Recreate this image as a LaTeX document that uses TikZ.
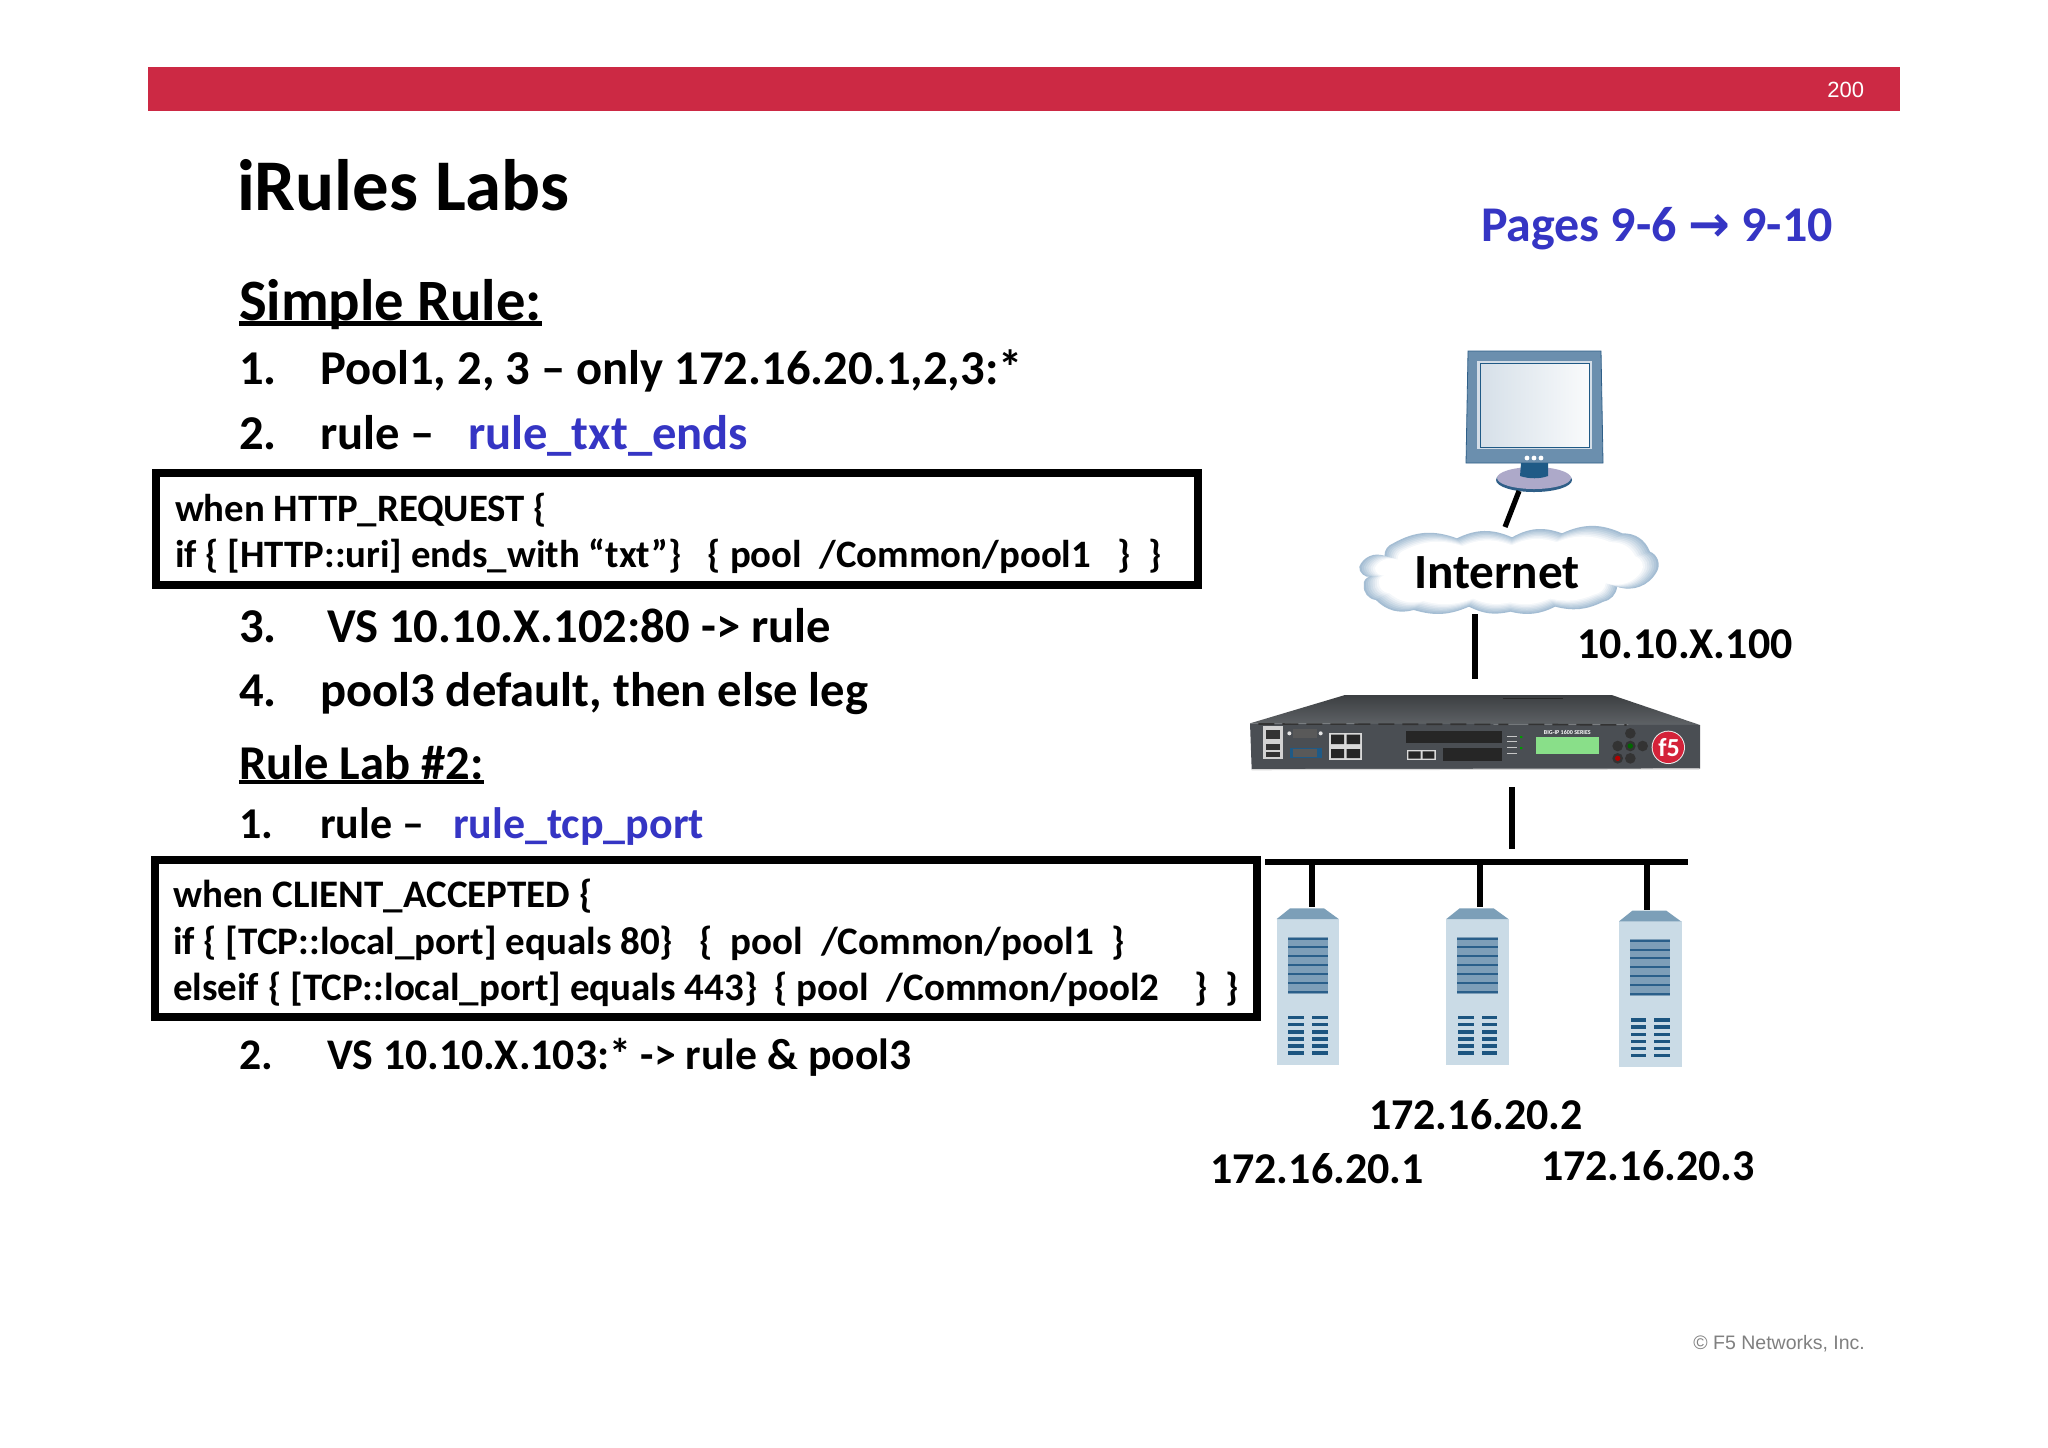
\documentclass[tikz,border=0pt]{standalone}
\usepackage{fontspec}
\setmainfont{Carlito}
\newfontfamily\arialfont{Liberation Sans}
\newfontfamily\arrowfont{DejaVu Sans}
\definecolor{barred}{HTML}{CC2944}
\definecolor{linkblue}{HTML}{3535C4}
\definecolor{steel}{HTML}{6B8FAE}
\definecolor{steeldark}{HTML}{2F5F88}
\definecolor{navy}{HTML}{1F5A86}
\definecolor{srvbody}{HTML}{CADBE6}
\definecolor{srvroof}{HTML}{7C9FB8}
\definecolor{srvpanel}{HTML}{7D9EB8}
\definecolor{srvline}{HTML}{2A5F8A}
\definecolor{vent}{HTML}{1C5580}
\definecolor{boxtop}{HTML}{565A5E}
\definecolor{boxfront}{HTML}{4A4E53}
\definecolor{cloudedge}{HTML}{A4BDD3}
\tikzset{
  lbl/.style={anchor=base west,inner sep=0pt,outer sep=0pt,text=black,font=\bfseries\fontsize{#1}{#1}\selectfont},
  lbl/.default=22,
  codebox/.style={draw=black,line width=3.6pt,fill=none},
  wire/.style={draw=black,line width=2.6pt},
}
\newcommand{\cloudoutline}{(495,740) to[bend left=55] (462,710) to[bend left=45] (535,678) to[bend left=35] (560,640) to[bend left=25] (745,625) to[bend left=25] (905,622) to[bend left=25] (1050,610) to[bend left=25] (1225,610) to[bend left=35] (1305,665) to[bend left=50] (1325,725) to[bend left=40] (1210,770) to[bend left=35] (1170,815) to[bend left=20] (1030,830) to[bend left=20] (900,845) to[bend left=20] (780,830) to[bend left=20] (620,840) to[bend left=30] (510,810) to[bend left=45] (475,765) to[bend left=50] cycle}
\newcommand{\thickul}[1]{\setbox0=\hbox{#1}\leavevmode\rlap{\rule[-0.11em]{\wd0}{0.085em}}\box0}
\begin{document}
\begin{tikzpicture}[x=0.5pt,y=-0.5pt]
\useasboundingbox (0,0) rectangle (2048,1447);
\fill[white] (0,0) rectangle (2048,1447);
% header
\fill[barred] (148,67) rectangle (1900,111);
\node[anchor=base west,inner sep=0pt,text=white,font=\arialfont\fontsize{11}{11}\selectfont] (pageno) at (1827,97) {200};
\node[anchor=base west,inner sep=0pt,text=black!50,font=\arialfont\fontsize{9.75}{9.75}\selectfont] (copyright) at (1693,1349) {© F5 Networks, Inc.};
% left text
\node[lbl=36.4] (title) at (237,210) {iRules Labs};
\node[lbl=25,text=linkblue] (pages) at (1481,241) {Pages 9-6 {\arrowfont\bfseries\fontsize{25}{25}\selectfont →} 9-10};
\node[lbl=29.3] (simple) at (239,320) {\thickul{Simple Rule:}};
\node[lbl=24.3] (n1) at (239,384) {1.};
\node[lbl=24.3] (t1) at (320,384) {Pool1, 2, 3 – only 172.16.20.1,2,3:*};
\node[lbl=24.3] (n2) at (239,449) {2.};
\node[lbl=24.3] (t2) at (320,449) {rule –};
\node[lbl=24.3,text=linkblue] (t2b) at (468,449) {rule\_txt\_ends};
\draw[codebox] (156,473) rectangle (1198,585);
\node[lbl=19.4] (c1a) at (175,521) {when HTTP\_REQUEST \{};
\node[lbl=19.4] (c1b) at (175,567) {if \{ [HTTP::uri] ends\_with “txt”\}~~ \{ pool~ /Common/pool1~~ \}~ \}};
\node[lbl=24.3] (n3) at (239,642) {3.};
\node[lbl=24.3] (t3) at (327,642) {VS 10.10.X.102:80 -> rule};
\node[lbl=24.3] (n4) at (239,706) {4.};
\node[lbl=24.3] (t4) at (320,706) {pool3 default, then else leg};
\node[lbl=24.3] (lab2) at (239,779) {\thickul{Rule Lab \#2:}};
\node[lbl=22] (m1) at (239,838) {1.};
\node[lbl=22] (m1t) at (320,838) {rule –};
\node[lbl=22,text=linkblue] (m1b) at (453,838) {rule\_tcp\_port};
\draw[codebox] (155,860) rectangle (1257,1017);
\node[lbl=19.5] (c2a) at (173,907) {when CLIENT\_ACCEPTED \{};
\node[lbl=19.5] (c2b) at (173,954) {if \{ [TCP::local\_port] equals 80\}~~ \{~ pool~ /Common/pool1~ \}};
\node[lbl=19.5] (c2c) at (173,1000) {elseif \{ [TCP::local\_port] equals 443\}\hspace{4pt} \{ pool~ /Common/pool2~~~ \}~ \}};
\node[lbl=21.85] (m2) at (239,1069) {2.};
\node[lbl=21.85] (m2t) at (327,1069) {VS 10.10.X.103:* -> rule \& pool3};
% monitor
\fill[steel,draw=steeldark,line width=.4pt] (1468,351) -- (1601,351) -- (1603,463) -- (1466,463) -- cycle;
\fill[white!70!steel] (1477,361) rectangle (1592,449);
\shade[shading angle=135,left color=white!72!steel,right color=white!96!steel] (1480,363) rectangle (1589,447);
\draw[navy,line width=.5pt] (1480,363) rectangle (1589,447);
\foreach \dx in {1527,1534,1541} \fill[white] (\dx,458) circle (2.4);
\fill[steeldark] (1534,480) ellipse (38 and 12);
\fill[white!50!steel!85!violet] (1534,478) ellipse (37 and 11);
\fill[navy] (1521,463) -- (1548,463) -- (1548,476) .. controls (1540,479) and (1529,479) .. (1520,476) -- cycle;
\coordinate (monout) at (1519,491);
\coordinate (cloudin) at (1505,527);
\draw[wire] (monout) -- (cloudin);
% cloud
\begin{scope}[shift={(1200,330)},x=0.5pt/2.9,y=-0.5pt/3]
  \foreach \s/\c in {1/0,.985/15,.97/30,.955/45,.94/60,.925/75,.91/88,.895/100}{
    \fill[white!\c!cloudedge,shift={(895,725)},xscale=\s,yscale={1-(1-\s)*2.2},shift={(-895,-725)}] \cloudoutline;
  }
\end{scope}
\node[lbl=24.6] (internet) at (1414,588) {Internet};
\node[lbl=22] (vip) at (1577,658) {10.10.X.100};
\coordinate (cloudout) at (1475,614);
\coordinate (bigin) at (1475,679);
\draw[wire] (cloudout) -- (bigin);
% BIG-IP appliance
\begin{scope}[shift={(1230,670)},x=0.5pt/3,y=-0.5pt/3]
  \shade[top color=boxtop!70!black,bottom color=boxtop!95!white] (345,75) -- (1145,75) -- (1410,165) -- (60,160) -- cycle;
  \fill[boxfront] (60,160) -- (1410,165) -- (1410,296) -- (65,298) -- cycle;
  \draw[white!70!gray,line width=.6pt] (65,299) -- (1408,297);
  \draw[black!80,line width=.8pt,dash pattern=on 8pt off 4pt] (85,162) -- (835,163) (895,163) -- (1190,165);
  \fill[black!70!gray] (820,83) rectangle (1000,88);
  % mgmt ports
  \fill[white!65!gray] (98,168) rectangle (160,268);
  \fill[black!80] (108,180) rectangle (150,208);
  \fill[black!80] (108,222) rectangle (150,240);
  \fill[black!80] (108,246) rectangle (150,262);
  % serial ports
  \fill[black!65] (190,178) rectangle (262,204);
  \fill[white!80!gray] (178,190) circle (6) (272,190) circle (6);
  \fill[navy] (180,234) rectangle (275,265);
  \fill[black!65] (190,238) rectangle (262,262);
  % four ethernet ports
  \fill[white!70!gray] (296,188) rectangle (396,270);
  \fill[black!85] (303,194) rectangle (342,222) (350,194) rectangle (390,222) (303,237) rectangle (342,264) (350,237) rectangle (390,264);
  % vents and SFP
  \fill[black!85] (527,182) rectangle (815,220);
  \fill[white!70!gray] (530,240) rectangle (618,270);
  \fill[black!85] (535,244) rectangle (572,266) (578,244) rectangle (613,266);
  \fill[black!85] (640,235) rectangle (815,272);
  % LEDs
  \foreach \ly in {200,216,233,250}{\fill[white!55!gray] (832,\ly-2) rectangle (862,\ly+1);}
  \fill[green!60!black] (870,198) rectangle (877,204) (870,231) rectangle (877,237);
  % LCD
  \fill[green!45!white!75!gray] (917,202) rectangle (1108,252);
  \node[inner sep=0pt,text=white,font=\bfseries\fontsize{3}{3}\selectfont] (model) at (1012,186) {BIG-IP 1600 SERIES};
  \foreach \kx/\ky in {1201/190,1163/228,1201/228,1238/228,1163/265,1201/265}{\fill[black!80] (\kx,\ky) circle (16);}
  \fill[red!70!black] (1163,265) circle (8);
  \fill[green!40!black] (1201,228) circle (8);
  \fill[white!85!gray] (1315,232) circle (50);
  \fill[barred!85!red] (1315,232) circle (47);
  \node[inner sep=0pt,text=white,font=\bfseries\fontsize{13}{13}\selectfont] (f5logo) at (1317,232) {f5};
\end{scope}
\coordinate (bigout) at (1512,787);
\coordinate (busin) at (1512,849);
\draw[wire] (bigout) -- (busin);
\coordinate (busl) at (1265,862);
\coordinate (busr) at (1688,862);
\draw[wire] (busl) -- (busr);
% servers
\begin{scope}[shift={(1250,850)},x=0.5pt/3,y=-0.5pt/3]
\foreach \ox/\oy/\sn in {0/0/a,509/0/b,1027/7/c}{
  \begin{scope}[shift={(\ox,\oy)}]
    \fill[srvbody] (80,207) rectangle (268,645);
    \fill[srvroof] (80,207) -- (120,175) -- (222,175) -- (266,207) -- cycle;
    \fill[srvpanel] (113,260) rectangle (234,432);
    \foreach \ly in {266,292,318,345,371,398,425}{\fill[srvline] (113,\ly-3) rectangle (234,\ly+3);}
    \foreach \ly in {503,524,546,567,588,609}{
      \fill[vent] (115,\ly-5) rectangle (162,\ly+5);
      \fill[vent] (186,\ly-5) rectangle (233,\ly+5);
    }
  \end{scope}
}
\end{scope}
\foreach \sx/\sy/\sn in {1312/907/a,1480/907/b,1647/910/c}{
  \coordinate (tap\sn) at (\sx,862);
  \coordinate (srv\sn) at (\sx,\sy);
  \draw[wire] (tap\sn) -- (srv\sn);
}
\node[lbl=22] (ip2) at (1369,1129) {172.16.20.2};
\node[lbl=22] (ip1) at (1210,1183) {172.16.20.1};
\node[lbl=22] (ip3) at (1541,1180) {172.16.20.3};
\end{tikzpicture}
\end{document}
